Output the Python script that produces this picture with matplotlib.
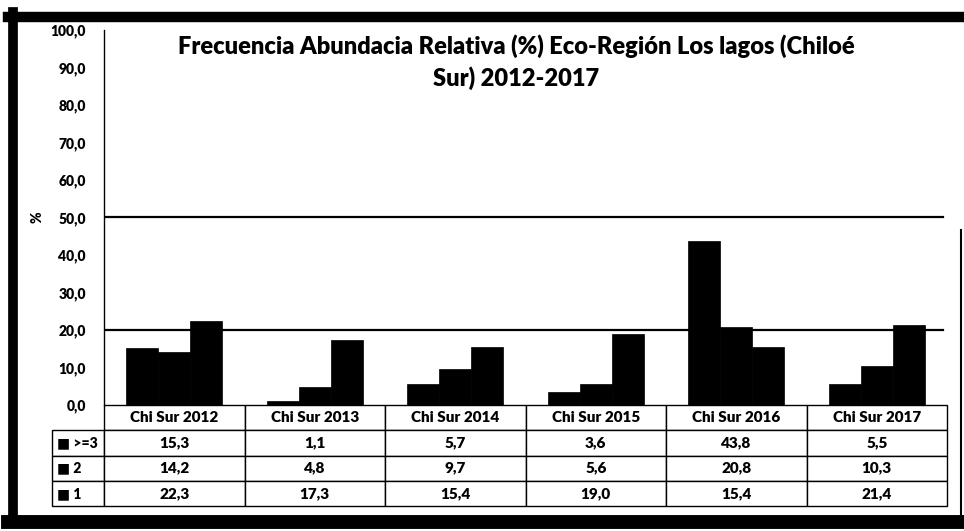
import matplotlib
matplotlib.use('Agg')
import matplotlib.pyplot as plt
from matplotlib.lines import Line2D
import numpy as np

plt.rcParams['font.family'] = ['Lato', 'DejaVu Sans']

categories = ['Chi Sur 2012', 'Chi Sur 2013', 'Chi Sur 2014',
              'Chi Sur 2015', 'Chi Sur 2016', 'Chi Sur 2017']
series_names = ['>=3', '2', '1']
ge3 = [15.3, 1.1, 5.7, 3.6, 43.8, 5.5]
two = [14.2, 4.8, 9.7, 5.6, 20.8, 10.3]
one = [22.3, 17.3, 15.4, 19.0, 15.4, 21.4]
yticks = [0, 10, 20, 30, 40, 50, 60, 70, 80, 90, 100]
ref_lines = [20, 50]

title = 'Frecuencia Abundacia Relativa (%) Eco-Región Los lagos (Chiloé\nSur) 2012-2017'


def fmt(v):
    return f'{v:.1f}'.replace('.', ',')


fig = plt.figure(figsize=(9.64, 5.31), dpi=100)
ax = fig.add_axes([104 / 964, 1 - 405 / 531, 843 / 964, 375 / 531])

x = np.arange(len(categories))
w = 0.227
for k, vals in enumerate([ge3, two, one]):
    ax.bar(x + (k - 1) * w, vals, width=w, color='black', edgecolor='black', linewidth=0.5, zorder=3)

for y in ref_lines:
    ax.axhline(y, color='black', linewidth=1.6, xmin=0, xmax=0.995, zorder=2)

ax.set_xlim(-0.5, len(categories) - 0.5)
ax.set_ylim(0, 100)
ax.set_yticks(yticks)
ax.set_yticklabels([fmt(v) for v in yticks], fontsize=10, fontweight='heavy')
ax.tick_params(axis='y', length=0, pad=13)
ax.set_xticks([])
for s in ['top', 'right', 'bottom']:
    ax.spines[s].set_visible(False)
ax.spines['left'].set_linewidth(1.0)

ax.set_ylabel('%', fontsize=10, fontweight='heavy', rotation=90)
ax.yaxis.set_label_coords(-0.072, 0.5)

fig.text(516 / 964, 1 - 34 / 531, title, fontsize=17, fontweight='heavy',
         ha='center', va='top', multialignment='center', linespacing=1.42)

# data table under the bars
cell_text = [[fmt(v) for v in row] for row in [ge3, two, one]]
row_labels = ['\u25a0 ' + n for n in series_names]
lab_w = 52 / 843
tbl = ax.table(cellText=cell_text, colLabels=categories,
               colWidths=[1 / 6] * 6, cellLoc='center',
               bbox=[0, -101 / 375, 1, 101 / 375])
h = tbl[1, 0].get_height()
for r, lab in enumerate(row_labels):
    tbl.add_cell(r + 1, -1, width=lab_w, height=h, text=lab, loc='left')
tbl.auto_set_font_size(False)
tbl.set_fontsize(11)
for (r, c), cell in tbl.get_celld().items():
    cell.set_edgecolor('black')
    cell.set_linewidth(1.0)
    cell.get_text().set_fontweight('heavy')
    if c == -1:
        cell.get_text().set_fontsize(10)

# thick scanned frame around the figure
fig.add_artist(Line2D([8 / 964, 1], [1 - 17 / 531] * 2, color='black', linewidth=7.5))
fig.add_artist(Line2D([13 / 964] * 2, [1 - 12 / 531, 1 - 522 / 531], color='black', linewidth=7))
fig.add_artist(Line2D([8 / 964, 1], [1 - 522 / 531] * 2, color='black', linewidth=10))
fig.add_artist(Line2D([961 / 964] * 2, [1 - 230 / 531, 1 - 515 / 531], color='black', linewidth=1.5))

fig.savefig('out.png', dpi=100)
